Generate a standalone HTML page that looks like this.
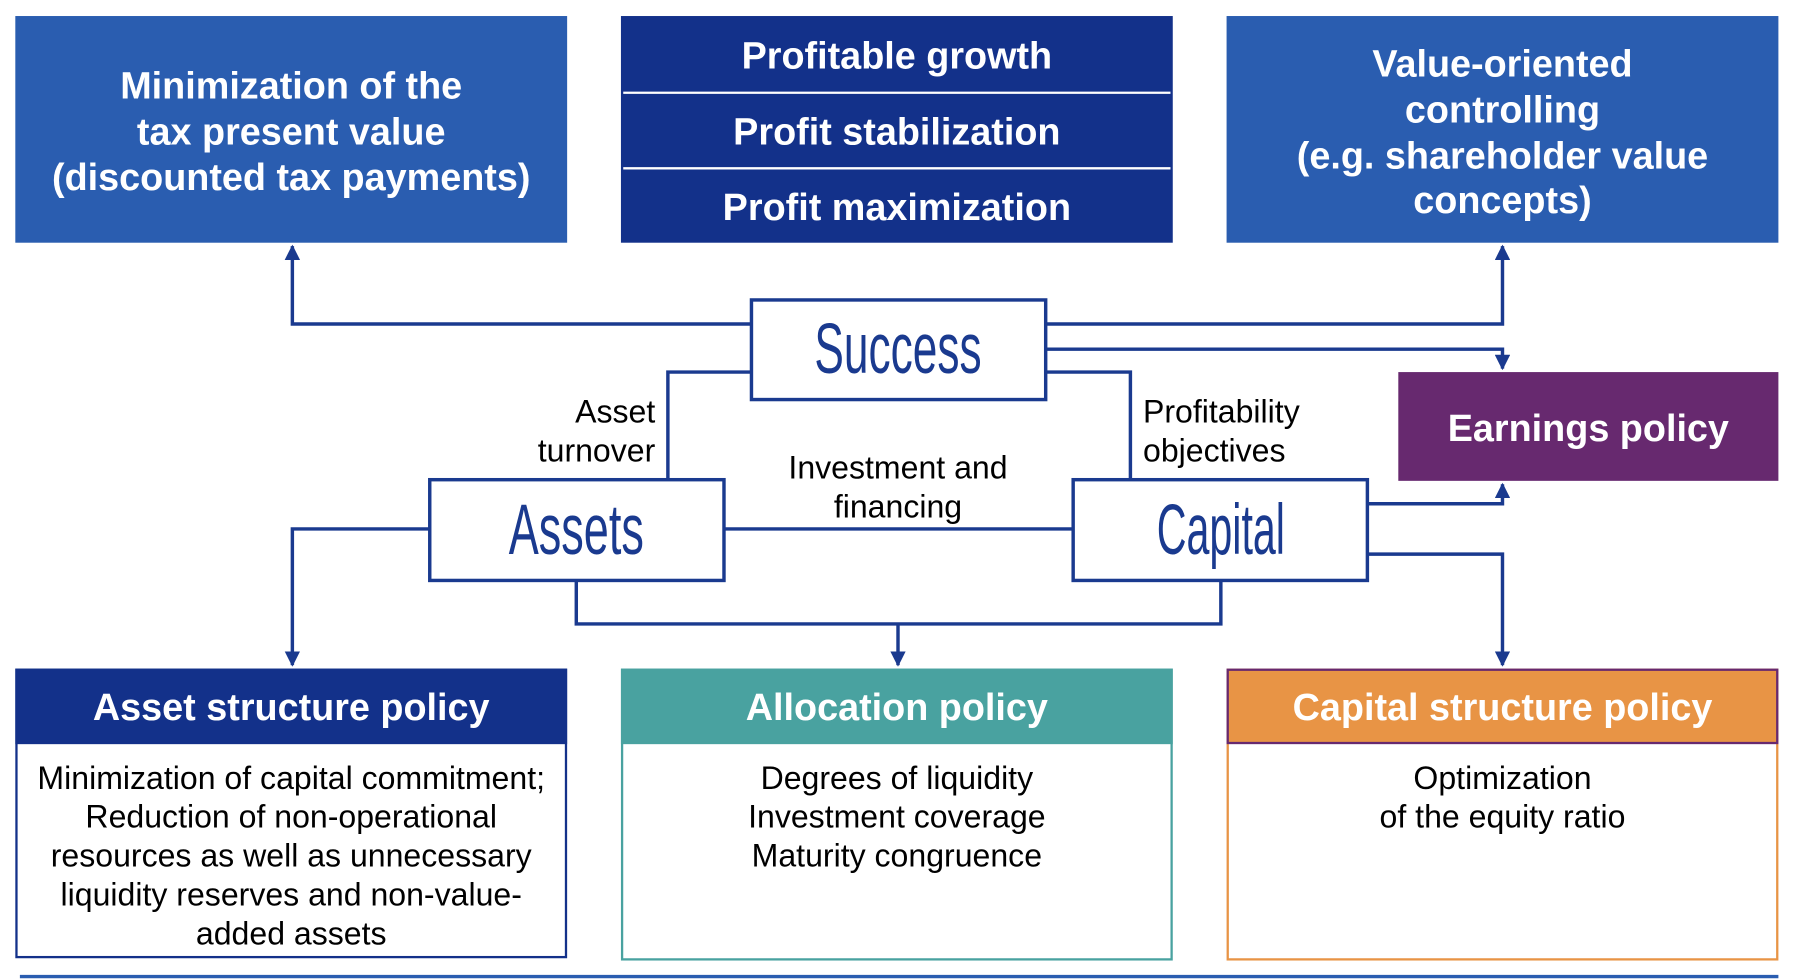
<!DOCTYPE html>
<html><head><meta charset="utf-8"><style>
html,body{margin:0;padding:0;background:#fff;}
svg{display:block;}
text{font-family:"Liberation Sans",sans-serif;}
.h{font-weight:bold;fill:#fff;font-size:33px;text-anchor:middle;}
.b{fill:#000;font-size:28px;text-anchor:middle;}
.n{fill:#1a3a8f;font-size:62px;text-anchor:middle;}
.c{stroke:#1a3a8f;stroke-width:3;fill:none;}
</style></head><body>
<svg width="1796" height="980" viewBox="0 0 1568 856" xmlns="http://www.w3.org/2000/svg">
<defs><marker id="a" viewBox="0 0 10 10" refX="9" refY="5" markerWidth="4.5" markerHeight="4.5" orient="auto"><path d="M0,0L10,5L0,10z" fill="#1a3a8f"/></marker></defs>
<rect x="13" y="14" width="482" height="198" fill="#2a5db0"/>
<text class="h" x="254" y="86">Minimization of the</text>
<text class="h" x="254" y="126">tax present value</text>
<text class="h" x="254" y="166">(discounted tax payments)</text>
<rect x="542" y="14" width="482" height="198" fill="#13318a"/>
<line x1="544" y1="81" x2="1022" y2="81" stroke="#fff" stroke-width="2"/>
<line x1="544" y1="147" x2="1022" y2="147" stroke="#fff" stroke-width="2"/>
<text class="h" x="783" y="60">Profitable growth</text>
<text class="h" x="783" y="126">Profit stabilization</text>
<text class="h" x="783" y="192">Profit maximization</text>
<rect x="1071" y="14" width="482" height="198" fill="#2a5db0"/>
<text class="h" x="1312" y="67">Value-oriented</text>
<text class="h" x="1312" y="107">controlling</text>
<text class="h" x="1312" y="147">(e.g. shareholder value</text>
<text class="h" x="1312" y="186">concepts)</text>
<rect x="1221" y="325" width="332" height="95" fill="#67296f"/>
<text class="h" x="1387" y="385">Earnings policy</text>
<path class="c" d="M655,283H255V215" marker-end="url(#a)"/>
<path class="c" d="M913,283H1312V215" marker-end="url(#a)"/>
<path class="c" d="M913,305H1312V322" marker-end="url(#a)"/>
<path class="c" d="M655,325H583V418"/>
<path class="c" d="M913,325H987V418"/>
<path class="c" d="M374,462H255V581" marker-end="url(#a)"/>
<path class="c" d="M632,462H936"/>
<path class="c" d="M503,507V545H1066V507"/>
<path class="c" d="M784,545V581" marker-end="url(#a)"/>
<path class="c" d="M1194,440H1312V423" marker-end="url(#a)"/>
<path class="c" d="M1194,484H1312V581" marker-end="url(#a)"/>
<rect x="656" y="262" width="257" height="87" fill="#fff" stroke="#1a3a8f" stroke-width="3"/>
<text class="n" x="784" y="326" textLength="146" lengthAdjust="spacingAndGlyphs">Success</text>
<rect x="375" y="419" width="257" height="88" fill="#fff" stroke="#1a3a8f" stroke-width="3"/>
<text class="n" x="503" y="484" textLength="118" lengthAdjust="spacingAndGlyphs">Assets</text>
<rect x="937" y="419" width="257" height="88" fill="#fff" stroke="#1a3a8f" stroke-width="3"/>
<text class="n" x="1066" y="484" textLength="112" lengthAdjust="spacingAndGlyphs">Capital</text>
<text class="b" x="572" y="369" style="text-anchor:end">Asset</text>
<text class="b" x="572" y="403" style="text-anchor:end">turnover</text>
<text class="b" x="998" y="369" style="text-anchor:start">Profitability</text>
<text class="b" x="998" y="403" style="text-anchor:start">objectives</text>
<text class="b" x="784" y="418">Investment and</text>
<text class="b" x="784" y="452">financing</text>
<rect x="14" y="585" width="480" height="251" fill="#fff" stroke="#13318a" stroke-width="2"/>
<rect x="13" y="584" width="482" height="66" fill="#13318a"/>
<text class="h" x="254" y="629">Asset structure policy</text>
<text class="b" x="254" y="689">Minimization of capital commitment;</text>
<text class="b" x="254" y="723">Reduction of non-operational</text>
<text class="b" x="254" y="757">resources as well as unnecessary</text>
<text class="b" x="254" y="791">liquidity reserves and non-value-</text>
<text class="b" x="254" y="825">added assets</text>
<rect x="543" y="585" width="480" height="253" fill="#fff" stroke="#49a2a0" stroke-width="2"/>
<rect x="542" y="584" width="482" height="66" fill="#49a2a0"/>
<text class="h" x="783" y="629">Allocation policy</text>
<text class="b" x="783" y="689">Degrees of liquidity</text>
<text class="b" x="783" y="723">Investment coverage</text>
<text class="b" x="783" y="757">Maturity congruence</text>
<rect x="1072" y="585" width="480" height="253" fill="#fff" stroke="#e89445" stroke-width="2"/>
<rect x="1072" y="585" width="480" height="64" fill="#e89445" stroke="#67296f" stroke-width="2"/>
<text class="h" x="1312" y="629">Capital structure policy</text>
<text class="b" x="1312" y="689">Optimization</text>
<text class="b" x="1312" y="723">of the equity ratio</text>
<line x1="17" y1="853" x2="1553" y2="853" stroke="#2a5db0" stroke-width="3"/>
</svg>
</body></html>
